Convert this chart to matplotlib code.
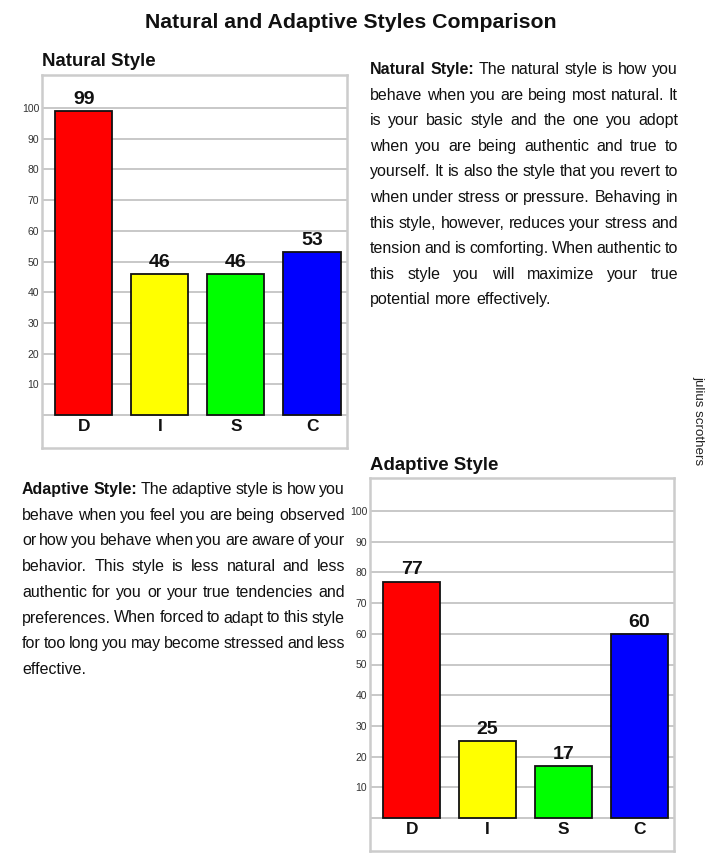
import matplotlib
matplotlib.use("Agg")
import matplotlib.pyplot as plt

plt.rcParams['font.family'] = ['Liberation Sans', 'DejaVu Sans']

categories = ["D", "I", "S", "C"]
natural_values = [99, 46, 46, 53]
adaptive_values = [77, 25, 17, 60]
bar_colors = ["#ff0000", "#ffff00", "#00ff00", "#0000ff"]
y_ticks = [10, 20, 30, 40, 50, 60, 70, 80, 90, 100]

natural_lines = [
    "Natural Style: The natural style is how you",
    "behave when you are being  most natural. It",
    "is your basic style and the one you adopt",
    "when you are being  authentic and true to",
    "yourself.  It is also the style that you revert to",
    "when under stress or pressure. Behaving in",
    "this style, however, reduces your stress and",
    "tension and is comforting. When authentic to",
    "this style you will maximize your true",
    "potential more effectively.",
]
adaptive_lines = [
    "Adaptive Style: The adaptive style is how you",
    "behave when you feel you are being observed",
    "or how you behave when you are aware of your",
    "behavior. This style is less natural and less",
    "authentic for you or your true tendencies and",
    "preferences. When forced to adapt to this style",
    "for too long you may become stressed and less",
    "effective.",
]

W, H = 717, 859
fig = plt.figure(figsize=(W / 100, H / 100), dpi=100)


def px_axes(x0, y0, x1, y1):
    return fig.add_axes([x0 / W, 1 - y1 / H, (x1 - x0) / W, (y1 - y0) / H])


def draw_chart(x0, y0, x1, y1, values, title):
    ax = px_axes(x0, y0, x1, y1)
    xs = list(range(len(categories)))
    ax.set_xlim(-0.55, 3.46)
    ax.set_ylim(-10.7, 110.7)
    for t in y_ticks:
        ax.axhline(t, color="#c8c8c8", lw=1.4, zorder=0)
    ax.axhline(0, color="#c8c8c8", lw=1.4, zorder=0)
    ax.bar(xs, values, width=0.75, color=bar_colors, edgecolor="#111111",
           linewidth=1.3, zorder=2)
    for x, v in zip(xs, values):
        ax.text(x, v + 1.0, str(v), ha="center", va="bottom",
                fontsize=14, fontweight="bold", color="#111111")
        ax.text(x, -3.7, categories[x], ha="center", va="center",
                fontsize=12.5, fontweight="bold", color="#111111")
    ax.set_yticks(y_ticks)
    ax.set_yticklabels([str(t) for t in y_ticks], fontsize=7.5, color="#333333")
    ax.tick_params(axis="y", length=0, pad=2)
    ax.set_xticks([])
    for s in ax.spines.values():
        s.set_color("#cccccc")
        s.set_linewidth(1.8)
    fig.text(x0 / W, 1 - (y0 - 13) / H, title, ha="left", va="center",
             fontsize=13.4, fontweight="bold", color="#111111")
    return ax


draw_chart(42, 75, 347, 448, natural_values, "Natural Style")
draw_chart(370, 478, 674, 851, adaptive_values, "Adaptive Style")

fig.text(350.5 / W, 1 - 23 / H, "Natural and Adaptive Styles Comparison",
         ha="center", va="center", fontsize=15.3, fontweight="bold",
         color="#111111")

fig.text(698 / W, 1 - 421 / H, "julius scrothers", rotation=-90,
         ha="center", va="center", fontsize=9.6, color="#222222")

fig.canvas.draw()
renderer = fig.canvas.get_renderer()
FS = 11.5


def text_width(s, weight):
    t = fig.text(0, 0, s, fontsize=FS, fontweight=weight)
    w = t.get_window_extent(renderer).width
    t.remove()
    return w


def draw_paragraph(lines, bold_prefix, x0, x1, base0, step):
    for i, line in enumerate(lines):
        words = line.split()
        items = []
        if i == 0:
            pre = bold_prefix.split()
            for w in pre:
                items.append((w, "bold"))
            words = words[len(pre):]
        for w in words:
            items.append((w, "normal"))
        widths = [text_width(w, wt) for w, wt in items]
        y = 1 - (base0 + i * step) / H
        if i == len(lines) - 1:
            gap = text_width("a b", "normal") - text_width("ab", "normal")
        else:
            gap = (x1 - x0 - sum(widths)) / (len(items) - 1)
        x = x0
        for (w, wt), wd in zip(items, widths):
            fig.text(x / W, y, w, fontsize=FS, fontweight=wt, ha="left",
                     va="baseline", color="#111111")
            x += wd + gap


draw_paragraph(natural_lines, "Natural Style:", 370, 678, 74, 25.6)
draw_paragraph(adaptive_lines, "Adaptive Style:", 22, 345, 494, 25.7)

fig.savefig("out.png", dpi=100)
